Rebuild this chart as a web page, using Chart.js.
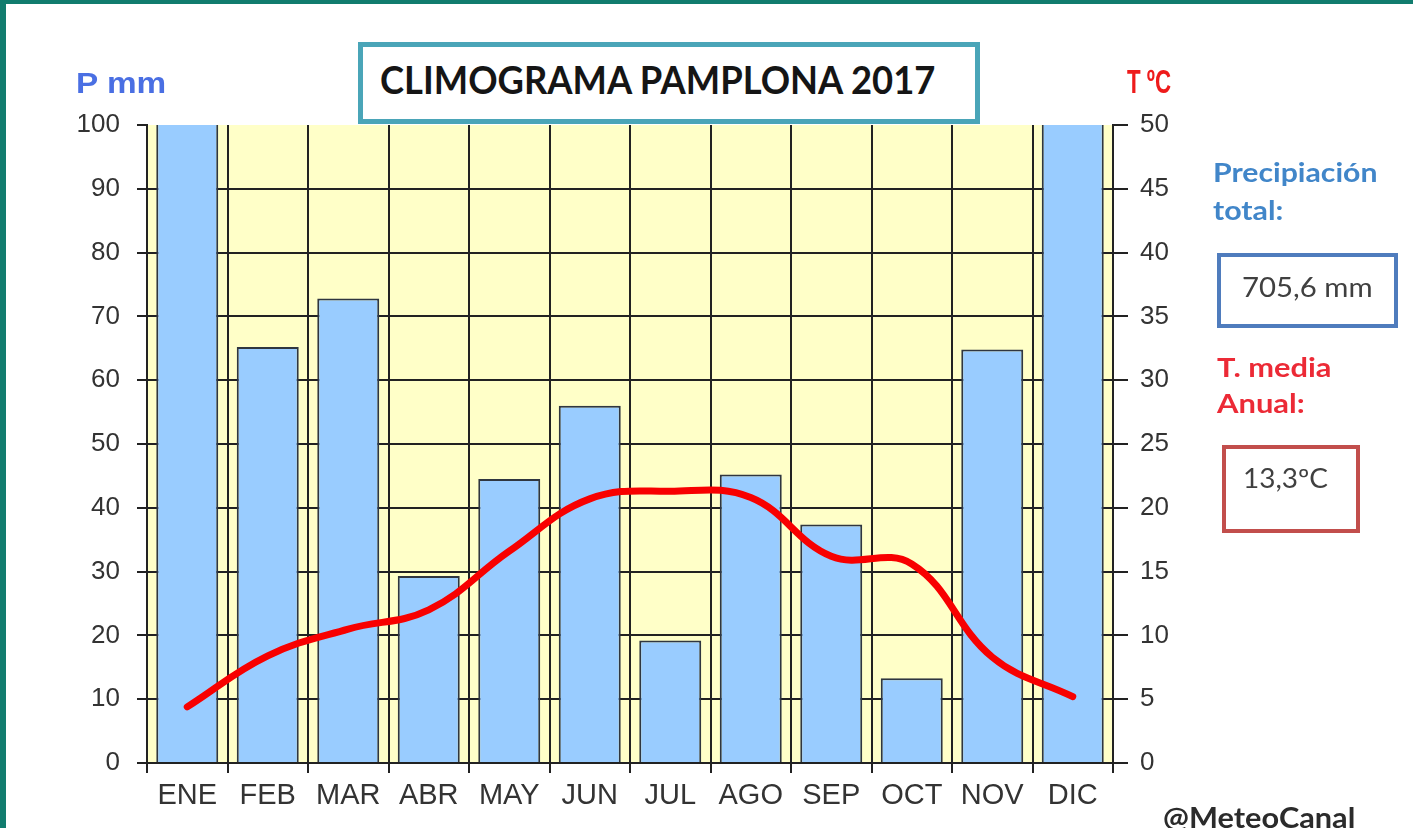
<!DOCTYPE html>
<html lang="es">
<head>
<meta charset="utf-8">
<title>Climograma Pamplona 2017</title>
<script src="https://cdn.jsdelivr.net/npm/chart.js@4.4.1/dist/chart.umd.min.js"></script>
<style>
  html, body { margin: 0; padding: 0; background: #fff; overflow: hidden; }
  #wrap { position: relative; width: 1413px; height: 828px; }
  #chart { position: absolute; left: 0; top: 0; }
  .edge { position: absolute; background: #117c6e; }
  .txt { position: absolute; white-space: nowrap; line-height: 1; transform-origin: left top; }
  .box { position: absolute; box-sizing: border-box; background: #fff; }
  .lato { font-family: Lato, "Open Sans", sans-serif; }
  .arial { font-family: "Liberation Sans", Arial, sans-serif; }
</style>
</head>
<body>
<div id="wrap">
  <canvas id="chart" width="1413" height="828"></canvas>

  <div class="edge" style="left:0;top:0;width:1413px;height:4px"></div>
  <div class="edge" style="left:0;top:0;width:6px;height:828px"></div>

  <div class="txt arial" data-w="90" style="left:76px;top:68px;font-size:30px;font-weight:bold;color:#4a6fe3">P mm</div>
  <div class="txt arial" data-w="44" style="left:1127px;top:65px;font-size:33px;font-weight:bold;color:#ee1b1b">T ºC</div>

  <div class="box" style="left:358px;top:42px;width:622px;height:82px;border:5px solid #4aa5b8"></div>
  <div class="txt lato" data-w="555" style="left:380px;top:60px;font-size:39px;font-weight:bold;color:#151515">CLIMOGRAMA PAMPLONA 2017</div>

  <div class="txt lato" data-w="165" style="left:1213px;top:159px;font-size:26px;font-weight:bold;color:#4186c9">Precipiación</div>
  <div class="txt lato" data-w="70" style="left:1213px;top:197px;font-size:26px;font-weight:bold;color:#4186c9">total:</div>
  <div class="box" style="left:1217px;top:253px;width:181px;height:75px;border:4px solid #4f7cbd"></div>
  <div class="txt lato" data-w="131" style="left:1242px;top:274px;font-size:26px;color:#404040">705,6 mm</div>

  <div class="txt lato" data-w="115" style="left:1217px;top:354px;font-size:26px;font-weight:bold;color:#ec2a36">T. media</div>
  <div class="txt lato" data-w="88" style="left:1217px;top:390px;font-size:26px;font-weight:bold;color:#ec2a36">Anual:</div>
  <div class="box" style="left:1222px;top:445px;width:138px;height:88px;border:4px solid #c24e4c"></div>
  <div class="txt lato" data-w="85" style="left:1243px;top:465px;font-size:26px;color:#404040">13,3ºC</div>

  <div class="txt lato" data-w="192" style="left:1163px;top:803px;font-size:28px;font-weight:bold;color:#2b2b2b">@MeteoCanal</div>
</div>

<script>
// Monthly climate data, Pamplona 2017
const months = ['ENE', 'FEB', 'MAR', 'ABR', 'MAY', 'JUN', 'JUL', 'AGO', 'SEP', 'OCT', 'NOV', 'DIC']
const precipitation = [117.8, 65.2, 72.8, 29.3, 44.5, 56.0, 19.2, 45.2, 37.4, 13.3, 64.8, 140.1]
const temperature = [4.4, 8.4, 10.5, 12.0, 16.6, 20.7, 21.3, 20.8, 16.2, 15.6, 8.3, 5.2]

// Axis tick values
const precipTicks = [0, 10, 20, 30, 40, 50, 60, 70, 80, 90, 100]
const tempTicks = [0, 5, 10, 15, 20, 25, 30, 35, 40, 45, 50]

const gridColor = '#222'
const labelColor = '#333'

// Pale yellow fill behind the plot area
const plotBackground = {
  id: 'plotBackground',
  beforeDraw(chart) {
    const { ctx, chartArea: a } = chart
    ctx.save()
    ctx.fillStyle = '#ffffc8'
    ctx.fillRect(a.left, a.top, a.right - a.left, a.bottom - a.top)
    ctx.restore()
  }
}

Chart.defaults.font.family = '"Liberation Sans", Arial, sans-serif'

const ctx = document.getElementById('chart').getContext('2d')

new Chart(ctx, {
  type: 'bar',
  data: {
    labels: months,
    datasets: [
      {
        type: 'line',
        label: 'T ºC',
        data: temperature,
        yAxisID: 'yT',
        order: 0,
        borderColor: '#f80000',
        borderWidth: 7,
        borderCapStyle: 'round',
        borderJoinStyle: 'round',
        tension: 0.4,
        pointRadius: 0,
        fill: false
      },
      {
        type: 'bar',
        label: 'P mm',
        data: precipitation,
        yAxisID: 'yP',
        order: 1,
        clip: 0,
        backgroundColor: '#99ccff',
        borderColor: '#2f3640',
        borderWidth: 2,
        borderSkipped: 'bottom',
        barPercentage: 0.77,
        categoryPercentage: 1
      }
    ]
  },
  options: {
    responsive: false,
    animation: false,
    layout: { padding: { top: 125, left: 0, right: 0, bottom: 0 } },
    plugins: {
      legend: { display: false },
      tooltip: { enabled: false }
    },
    scales: {
      x: {
        offset: true,
        afterFit: scale => { scale.height = 65 },
        grid: { offset: true, color: gridColor, lineWidth: 2, tickLength: 10 },
        border: { color: gridColor, width: 2, z: 1 },
        ticks: { color: labelColor, padding: 6, font: { size: 29 } }
      },
      yP: {
        position: 'left',
        min: 0,
        max: 100,
        afterFit: scale => { scale.width = 147 },
        afterBuildTicks: scale => { scale.ticks = precipTicks.map(v => ({ value: v })) },
        grid: {
          color: c => (c.tick && c.tick.value === 100 ? 'rgba(0,0,0,0)' : gridColor),
          tickColor: gridColor,
          lineWidth: 2,
          tickLength: 10
        },
        border: { color: gridColor, width: 2 },
        ticks: { color: labelColor, padding: 17, font: { size: 26 } }
      },
      yT: {
        position: 'right',
        min: 0,
        max: 50,
        afterFit: scale => { scale.width = 300 },
        afterBuildTicks: scale => { scale.ticks = tempTicks.map(v => ({ value: v })) },
        grid: { drawOnChartArea: false, color: gridColor, lineWidth: 2, tickLength: 15 },
        border: { color: gridColor, width: 2 },
        ticks: { color: labelColor, padding: 12, font: { size: 26 } }
      }
    }
  },
  plugins: [plotBackground]
})

// squeeze each label horizontally to its measured width
document.querySelectorAll('.txt[data-w]').forEach(el => {
  const w = parseFloat(el.dataset.w)
  el.style.transform = 'scaleX(' + (w / el.offsetWidth) + ')'
})
</script>
</body>
</html>
